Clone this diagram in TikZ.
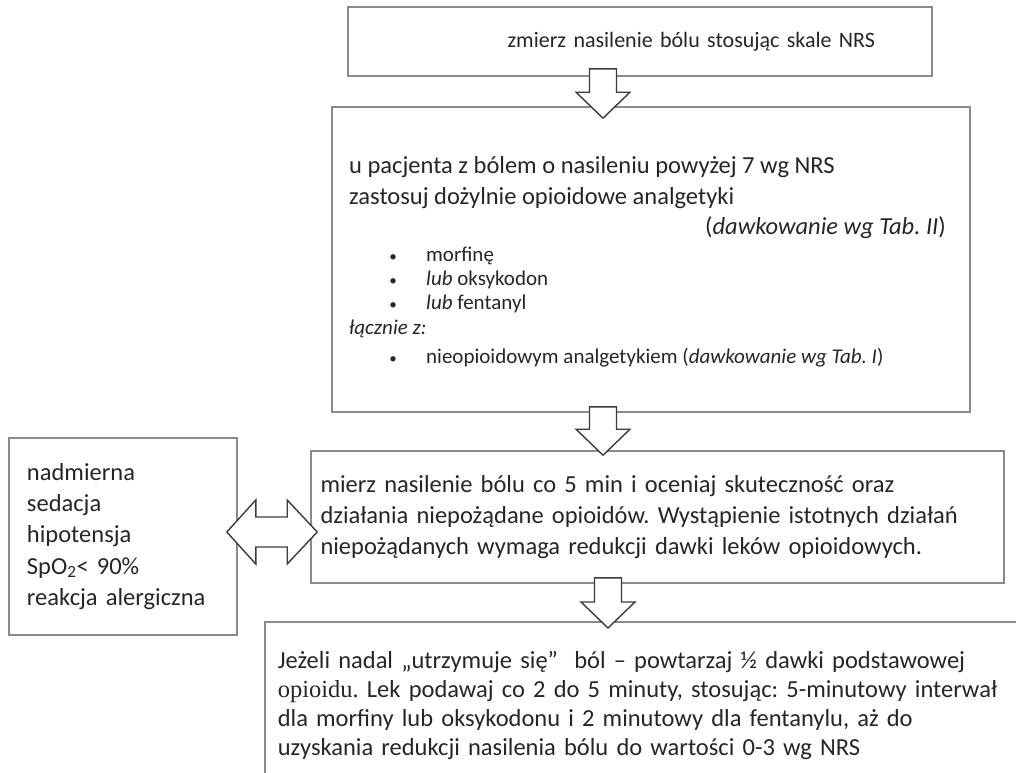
\documentclass[tikz,border=0pt]{standalone}
\usepackage{fontspec}
\setmainfont{Carlito}
\newfontfamily\szeryf{Liberation Serif}
\usepackage{xcolor}
\usetikzlibrary{positioning,calc}
\definecolor{ramkaszara}{HTML}{8A8A8A}
\definecolor{strzalkaszara}{HTML}{3C3C3C}
\definecolor{tekstczarny}{HTML}{262626}
\frenchspacing

% block arrows drawn between two points
\newcommand{\blokDol}[2]{%
  \draw[blok] let \p1=#1, \p2=#2 in
    (\x1-13.5pt,\y1) -- (\x1+13.5pt,\y1) -- (\x1+13.5pt,\y2+26pt)
    -- (\x1+27pt,\y2+26pt) -- (\x2,\y2) -- (\x1-27pt,\y2+26pt)
    -- (\x1-13.5pt,\y2+26pt) -- cycle;}
\newcommand{\blokObie}[2]{%
  \draw[blok] let \p1=#1, \p2=#2 in
    (\x1,\y1) -- (\x1+29pt,\y1+32pt) -- (\x1+29pt,\y1+15pt)
    -- (\x2-30pt,\y1+15pt) -- (\x2-30pt,\y1+32pt) -- (\x2,\y1)
    -- (\x2-30pt,\y1-32pt) -- (\x2-30pt,\y1-15pt)
    -- (\x1+29pt,\y1-15pt) -- (\x1+29pt,\y1-32pt) -- cycle;}

\begin{document}
\begin{tikzpicture}[
      x=1pt, y=-1pt,
      text=tekstczarny,
      ramka/.style={draw=ramkaszara, line width=1.6pt, fill=white, inner sep=0pt},
      duzy/.style={font=\fontsize{24.5}{31}\selectfont},
      maly/.style={font=\fontsize{21}{24}\selectfont},
      linia/.style={inner sep=0pt, anchor=base west},
      kropka/.style={inner sep=0pt, anchor=base, font=\fontsize{15}{24}\selectfont},
      blok/.style={draw=strzalkaszara, fill=white, line width=1.4pt, line join=miter}]
    \useasboundingbox (0,0) rectangle (1016,772);
    \clip (0,0) rectangle (1016,772);
    \fill[white] (0,0) rectangle (1016,772);

    \node[ramka, minimum width=584pt, minimum height=69pt, text width=470pt,
          inner xsep=57pt, align=right, font=\fontsize{22}{26}\selectfont]
          (zmierz) at (640,41.5) {zmierz nasilenie bólu stosując skale NRS};

    \node[ramka, minimum width=638pt, minimum height=305pt] (leki) at (651,259.5) {};
    \node[linia, duzy] (l1) at (349,173) {u pacjenta z bólem o nasileniu powyżej 7 wg NRS};
    \node[linia, duzy] (l2) at (349,204) {zastosuj dożylnie opioidowe analgetyki};
    \node[inner sep=0pt, anchor=base east, duzy] (tab2) at (946,234) {(\textit{dawkowanie wg Tab. II})};
    \node[kropka] (k1) at (393,261) {•};
    \node[linia, maly] (morf) at (426,261) {morfinę};
    \node[kropka] (k2) at (393,285) {•};
    \node[linia, maly] (oksy) at (426,285) {\textit{lub} oksykodon};
    \node[kropka] (k3) at (393,309) {•};
    \node[linia, maly] (fent) at (426,309) {\textit{lub} fentanyl};
    \node[linia, maly] (lacznie) at (349,334) {\textit{łącznie z:}};
    \node[kropka] (k4) at (393,363) {•};
    \node[linia, maly] (nieop) at (426,363) {nieopioidowym analgetykiem (\textit{dawkowanie wg Tab. I})};

    \node[ramka, duzy, minimum width=693pt, minimum height=132pt, text width=674pt,
          inner xsep=9.5pt, align=left] (ocena) at (657.5,517)
          {mierz nasilenie bólu co 5 min i oceniaj skuteczność oraz\\
           działania niepożądane opioidów. Wystąpienie istotnych działań\\
           niepożądanych wymaga redukcji dawki leków opioidowych.};

    \node[ramka, minimum width=228pt, minimum height=197pt, text width=192pt,
          inner xsep=18pt, align=left, font=\fontsize{24.5}{31.2}\selectfont]
          (objawy) at (123,536.5)
          {nadmierna\\ sedacja\\ hipotensja\\ SpO\textsubscript{2}< 90\%\\ reakcja alergiczna};

    \node[ramka, anchor=north west, text width=760pt, inner xsep=13pt, inner ysep=29pt,
          align=left, font=\fontsize{24.5}{29}\selectfont] (dawki) at (264,621)
          {Jeżeli nadal „utrzymuje się”~ ból – powtarzaj ½ dawki podstawowej\\
           {\szeryf opioidu.} Lek podawaj co 2 do 5 minuty, stosując: 5-minutowy interwał\\
           dla morfiny lub oksykodonu i 2 minutowy dla fentanylu, aż do\\
           uzyskania redukcji nasilenia bólu do wartości 0-3 wg NRS};

    \coordinate (os1) at (603,0);
    \coordinate (os3) at (608,0);
    \coordinate (poziom) at (0,532);
    \blokDol{($(zmierz.south -| os1)+(0,-8)$)}{($(leki.north -| os1)+(0,12)$)}
    \blokDol{($(leki.south -| os1)+(0,-6)$)}{($(ocena.north -| os1)+(0,5)$)}
    \blokDol{($(ocena.south -| os3)+(0,-6)$)}{($(dawki.north -| os3)+(0,7)$)}
    \blokObie{($(objawy.east |- poziom)+(-11,0)$)}{($(ocena.west |- poziom)+(7,0)$)}
  \end{tikzpicture}
\end{document}
